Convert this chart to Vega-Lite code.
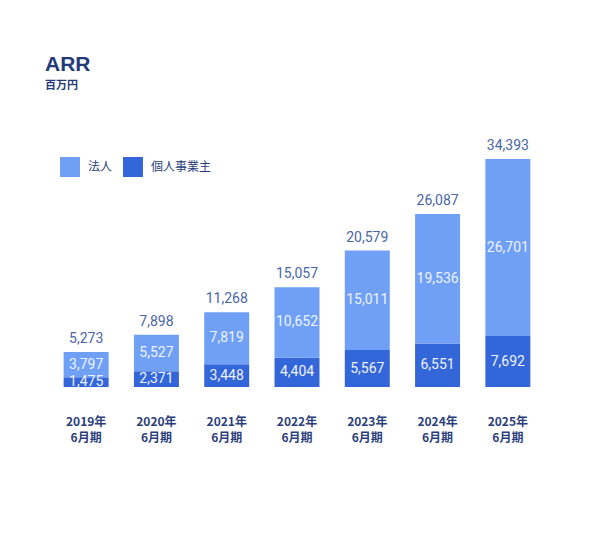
{
  "$schema": "https://vega.github.io/schema/vega-lite/v6.json",
  "width": 492,
  "height": 228,
  "autosize": "none",
  "padding": {"left": 51, "top": 159, "right": 49, "bottom": 153},
  "background": "white",
  "title": {
    "text": "ARR",
    "subtitle": "百万円",
    "anchor": "start",
    "frame": "group",
    "dx": -6,
    "offset": 48,
    "font": "Liberation Sans",
    "fontSize": 21,
    "fontWeight": "bold",
    "color": "#24397a",
    "subtitleFont": "Noto Sans CJK JP",
    "subtitleFontSize": 11,
    "subtitleFontWeight": "bold",
    "subtitleColor": "#24397a",
    "subtitlePadding": 5
  },
  "datasets": {
    "segments": [
      {"period": "2019年\n6月期", "type": "個人事業主", "rank": 1, "value": 1475},
      {"period": "2019年\n6月期", "type": "法人", "rank": 2, "value": 3797},
      {"period": "2020年\n6月期", "type": "個人事業主", "rank": 1, "value": 2371},
      {"period": "2020年\n6月期", "type": "法人", "rank": 2, "value": 5527},
      {"period": "2021年\n6月期", "type": "個人事業主", "rank": 1, "value": 3448},
      {"period": "2021年\n6月期", "type": "法人", "rank": 2, "value": 7819},
      {"period": "2022年\n6月期", "type": "個人事業主", "rank": 1, "value": 4404},
      {"period": "2022年\n6月期", "type": "法人", "rank": 2, "value": 10652},
      {"period": "2023年\n6月期", "type": "個人事業主", "rank": 1, "value": 5567},
      {"period": "2023年\n6月期", "type": "法人", "rank": 2, "value": 15011},
      {"period": "2024年\n6月期", "type": "個人事業主", "rank": 1, "value": 6551},
      {"period": "2024年\n6月期", "type": "法人", "rank": 2, "value": 19536},
      {"period": "2025年\n6月期", "type": "個人事業主", "rank": 1, "value": 7692},
      {"period": "2025年\n6月期", "type": "法人", "rank": 2, "value": 26701}
    ],
    "totals": [
      {"period": "2019年\n6月期", "total": 5273},
      {"period": "2020年\n6月期", "total": 7898},
      {"period": "2021年\n6月期", "total": 11268},
      {"period": "2022年\n6月期", "total": 15057},
      {"period": "2023年\n6月期", "total": 20579},
      {"period": "2024年\n6月期", "total": 26087},
      {"period": "2025年\n6月期", "total": 34393}
    ]
  },
  "encoding": {
    "x": {
      "field": "period",
      "type": "nominal",
      "sort": null,
      "scale": {"paddingInner": 0.36, "paddingOuter": 0.18},
      "axis": {
        "title": null,
        "domain": false,
        "ticks": false,
        "labelAngle": 0,
        "labelPadding": 29,
        "labelExpr": "split(datum.label, '\\n')",
        "labelFont": "Noto Sans CJK JP",
        "labelFontSize": 12,
        "labelFontWeight": "bold",
        "labelColor": "#2b3e7c",
        "labelLineHeight": 16,
        "labelBaseline": "top"
      }
    }
  },
  "layer": [
    {
      "data": {"name": "segments"},
      "mark": {"type": "bar"},
      "encoding": {
        "y": {
          "field": "value",
          "type": "quantitative",
          "stack": "zero",
          "scale": {"domain": [0, 34393], "nice": false},
          "axis": null
        },
        "order": {"field": "rank", "type": "quantitative"},
        "color": {
          "field": "type",
          "type": "nominal",
          "scale": {"domain": ["法人", "個人事業主"], "range": ["#6fa0f6", "#3366d8"]},
          "legend": {
            "title": null,
            "orient": "none",
            "legendX": 9,
            "legendY": -2,
            "direction": "horizontal",
            "symbolType": "square",
            "symbolSize": 400,
            "symbolStrokeWidth": 0,
            "symbolOpacity": 1,
            "labelOffset": 8,
            "columnPadding": 10,
            "labelFont": "Noto Sans CJK JP",
            "labelFontSize": 12,
            "labelColor": "#2b3e7c"
          }
        }
      }
    },
    {
      "data": {"name": "segments"},
      "transform": [
        {"stack": "value", "groupby": ["period"], "sort": [{"field": "rank"}], "as": ["y0", "y1"]},
        {"calculate": "(datum.y0 + datum.y1) / 2", "as": "mid"}
      ],
      "mark": {"type": "text", "font": "Roboto", "fontSize": 14, "color": "#eef3ff", "baseline": "middle"},
      "encoding": {
        "y": {"field": "mid", "type": "quantitative"},
        "text": {"field": "value", "type": "quantitative", "format": ","}
      }
    },
    {
      "data": {"name": "totals"},
      "mark": {"type": "text", "font": "Roboto", "fontSize": 14, "color": "#4a66a8", "baseline": "bottom", "dy": -6},
      "encoding": {
        "y": {"field": "total", "type": "quantitative"},
        "text": {"field": "total", "type": "quantitative", "format": ","}
      }
    }
  ],
  "config": {"view": {"stroke": null}}
}
